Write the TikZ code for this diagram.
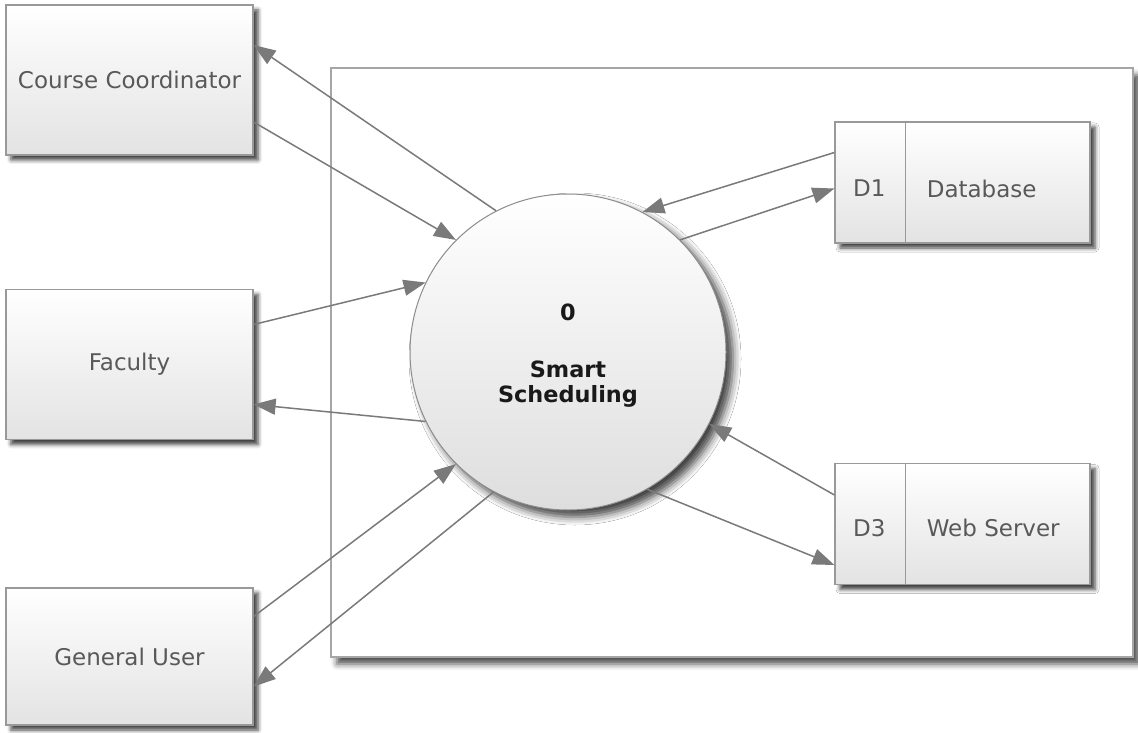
\documentclass[tikz,border=0pt]{standalone}
\usepackage{fontspec}
\setmainfont{DejaVu Sans}
\usetikzlibrary{arrows.meta,shadows.blur}

\tikzset{
  entity/.style={draw=black!40, line width=0.6pt, top color=white, bottom color=black!11,
    minimum width=123.5pt, minimum height=75pt, text=black!65,
    font=\fontsize{11.5}{14}\selectfont,
    blur shadow={shadow xshift=2.5pt, shadow yshift=-2.5pt, shadow blur radius=2pt, shadow opacity=75}},
  store/.style={entity, minimum width=127.5pt, minimum height=60.5pt},
  storetext/.style={text=black!65, font=\fontsize{11.5}{14}\selectfont},
  flow/.style={draw=black!52, line width=0.75pt, -{Triangle[length=11pt,width=8pt]}},
}

\begin{document}
\begin{tikzpicture}[x=0.5pt, y=-0.5pt]
    %%%%% START %%%%%
    \useasboundingbox (0,0) rectangle (1138,732);

    \draw[draw=black!35, line width=0.6pt, fill=white,
      blur shadow={shadow xshift=3pt, shadow yshift=-3.5pt, shadow blur radius=3pt, shadow opacity=70}]
      (331,68) rectangle (1133,657);

    \node[entity] (cc) at (129.5,80) {Course Coordinator};
    \node[entity] (fac) at (129.5,364.5) {Faculty};
    \node[entity, minimum height=68.5pt] (gu) at (129.5,656.5) {General User};

    \node[circle, draw=black!45, line width=0.5pt, minimum size=158pt,
      top color=white, bottom color=black!13, align=center,
      font=\bfseries\fontsize{11.2}{12.5}\selectfont, text=black!90,
      blur shadow={shadow xshift=3.5pt, shadow yshift=-3.5pt, shadow blur radius=4pt, shadow opacity=75}]
      (proc) at (568,352) {\rule{0pt}{12pt}0\\[16pt]Smart\\Scheduling};

    \node[store] (db) at (962.5,182.5) {};
    \draw[draw=black!40, line width=0.8pt] ([xshift=35.5pt]db.north west) -- ([xshift=35.5pt]db.south west);
    \node[storetext] (dbid) at ([xshift=17.5pt,yshift=-3pt]db.west) {D1};
    \node[storetext, anchor=west, inner sep=0pt] (dbname) at ([xshift=46pt,yshift=-3pt]db.west) {Database};

    \node[store] (ws) at (962.5,524) {};
    \draw[draw=black!40, line width=0.8pt] ([xshift=35.5pt]ws.north west) -- ([xshift=35.5pt]ws.south west);
    \node[storetext] (wsid) at ([xshift=17.5pt,yshift=-2pt]ws.west) {D3};
    \node[storetext, anchor=west, inner sep=0pt] (wsname) at ([xshift=46pt,yshift=-2pt]ws.west) {Web Server};

    % flows to and from the entities
    \draw[flow] (proc.117) -- ([yshift=17.5pt]cc.east);
    \draw[flow] ([yshift=-21pt]cc.east) -- (proc.135);
    \draw[flow] ([yshift=20pt]fac.east) -- (proc.154);
    \draw[flow] (proc.206) -- ([yshift=-20pt]fac.east);
    \draw[flow] ([yshift=20pt]gu.east) -- (proc.225.5);
    \draw[flow] (proc.242.6) -- ([yshift=-15pt]gu.east);

    % flows to and from the stores
    \draw[flow] ([yshift=15pt]db.west) -- (proc.62.8);
    \draw[flow] (proc.45) -- ([yshift=-3pt]db.west);
    \draw[flow] ([yshift=14.5pt]ws.west) -- (proc.-27.8);
    \draw[flow] (proc.-60) -- ([yshift=-20.5pt]ws.west);
    %%%%% END %%%%%
\end{tikzpicture}
\end{document}
